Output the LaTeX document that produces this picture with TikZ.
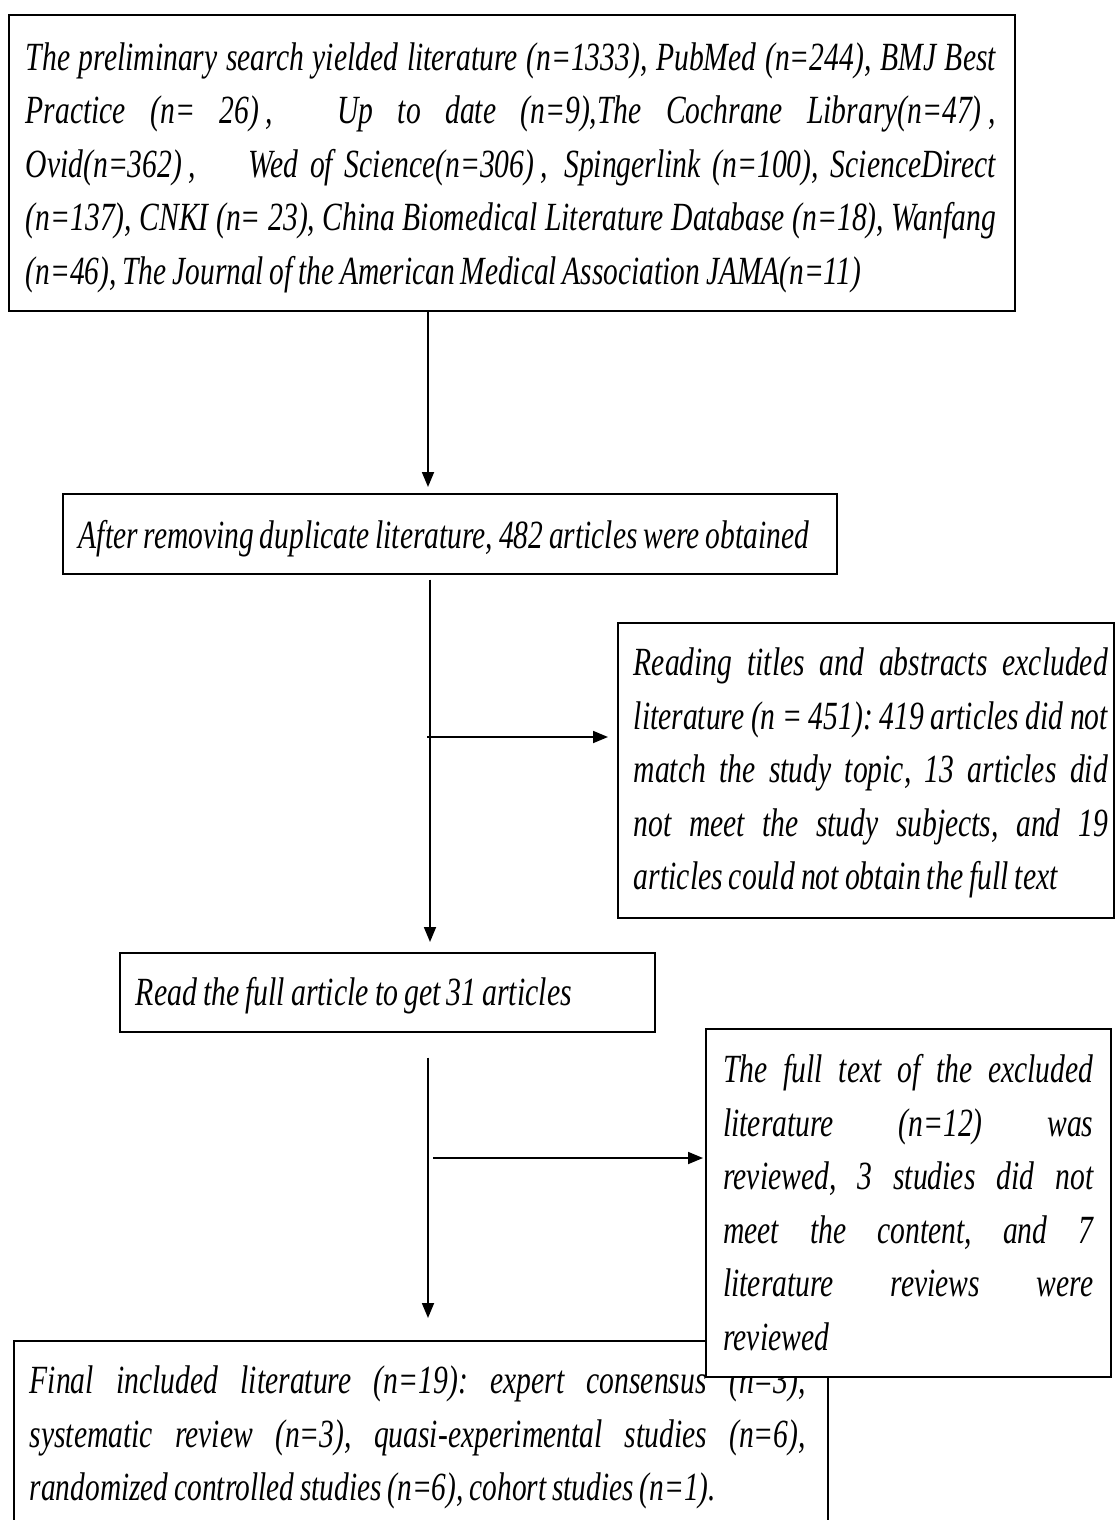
\documentclass[tikz,border=0pt]{standalone}
\usepackage{fontspec}
\setmainfont{Liberation Serif}[FakeStretch=0.74,WordSpace=0.8]
\usetikzlibrary{arrows.meta}
\frenchspacing
\tikzset{
  box/.style={draw, line width=1.6pt, fill=white, inner sep=0pt, anchor=north west},
  txt/.style={inner sep=0pt, font=\fontsize{40}{53.5}\selectfont\itshape\frenchspacing},
  arr/.style={line width=1.8pt, -{Triangle[length=15pt,width=12pt]}},
}
\begin{document}
\begin{tikzpicture}[x=1pt,y=-1pt]
\useasboundingbox (0,0) rectangle (1115,1520);
\clip (0,0) rectangle (1115,1520);
\fill[white] (0,0) rectangle (1115,1520);

\node[box, minimum width=1006, minimum height=296] (b1) at (8,14) {};
\node[txt, text width=970, align=justify] (t1) at ([xshift=-1pt,yshift=-5pt]b1.center)
{The preliminary search yielded literature (n=1333), PubMed (n=244), BMJ Best\linebreak
Practice (n= 26)\,,\hspace{1em} Up to date (n=9),The Cochrane Library(n=47)\,,\linebreak
Ovid(n=362)\,,\hspace{1em} Wed of Science(n=306)\,,\hspace{0.4em}Spingerlink (n=100), ScienceDirect\linebreak
(n=137), CNKI (n= 23), China Biomedical Literature Database (n=18), Wanfang\linebreak
\resizebox{835pt}{\height}{(n=46), The Journal of the American Medical Association JAMA(n=11)}};

\node[box, minimum width=774, minimum height=80] (b2) at (62,493) {};
\node[txt, text width=742, align=flush left] (t2) at ([yshift=-5pt]b2.center)
{\resizebox{730pt}{\height}{After removing duplicate literature, 482 articles were obtained}};

\node[box, minimum width=496, minimum height=295] (b3) at (617,622) {};
\node[txt, text width=474, align=justify] (t3) at ([xshift=5pt,yshift=-3pt]b3.center)
{Reading titles and abstracts excluded\linebreak
literature (n = 451): 419 articles did not\linebreak
match the study topic, 13 articles did\linebreak
not meet the study subjects, and 19\linebreak
\resizebox{424pt}{\height}{articles could not obtain the full text}};

\node[box, minimum width=535, minimum height=79] (b4) at (119,952) {};
\node[txt, text width=503, align=flush left] (t4) at ([yshift=-3pt]b4.center)
{\resizebox{436pt}{\height}{Read the full article to get 31 articles}};

\node[box, minimum width=814, minimum height=184] (b6) at (13,1340) {};
\node[txt, text width=776, align=justify] (t6) at ([xshift=-3pt,yshift=-5pt]b6.center)
{Final included literature (n=19): expert consensus (n=3),\linebreak
systematic review (n=3), quasi-experimental studies (n=6),\linebreak
\resizebox{686pt}{\height}{randomized controlled studies (n=6), cohort studies (n=1).}};

\node[box, minimum width=405, minimum height=348] (b5) at (705,1028) {};
\node[txt, text width=370, align=justify] (t5) at (b5.center)
{The full text of the excluded\linebreak
literature (n=12) was\linebreak
reviewed, 3 studies did not\linebreak
meet the content, and 7\linebreak
literature reviews were\linebreak
reviewed};

\coordinate (xa) at (428,0);
\coordinate (xb) at (430,0);
\coordinate (j1) at (427,737);
\coordinate (j2) at (433,1158);

\draw[arr] (b1.south -| xa) -- ([yshift=6pt]b2.north -| xa);
\draw[arr] ([yshift=-5pt]b2.south -| xb) -- ([yshift=10pt]b4.north -| xb);
\draw[arr] (j1) -- ([xshift=-9pt]b3.west |- j1);
\draw[arr] ([yshift=-25pt]b4.south -| xa) -- ([yshift=22pt]b6.north -| xa);
\draw[arr] (j2) -- ([xshift=-2pt]b5.west |- j2);
\end{tikzpicture}
\end{document}
